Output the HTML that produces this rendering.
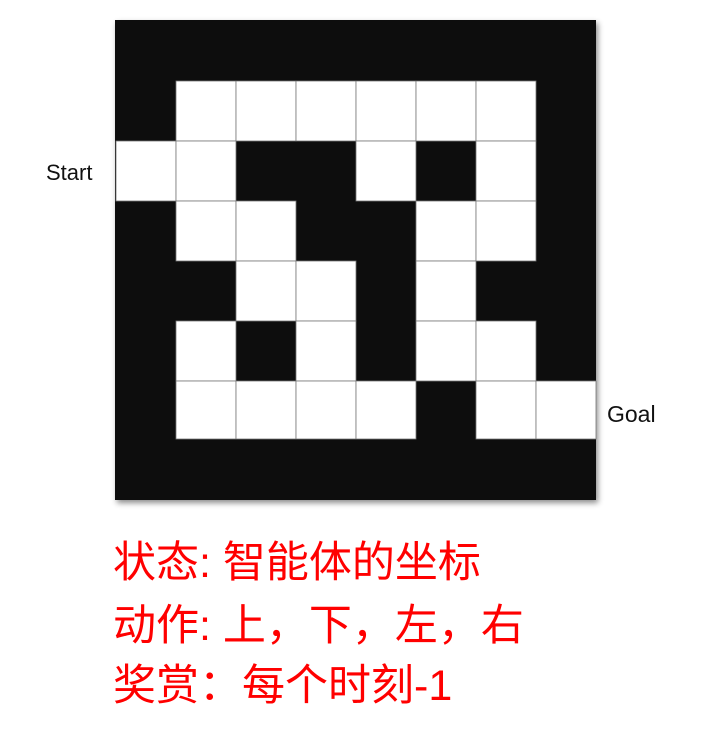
<!DOCTYPE html>
<html><head><meta charset="utf-8"><style>
body{margin:0;background:#fff;width:722px;height:732px;overflow:hidden;font-family:"Liberation Sans","Noto Sans CJK SC",sans-serif}
.t{position:absolute;left:113px;color:#f00;font-size:43px;font-family:"Liberation Sans","Noto Sans CJK SC",sans-serif;white-space:nowrap;line-height:1}
</style></head><body>
<svg id="s" width="722" height="520" style="position:absolute;left:0;top:0">
<defs><filter id="sh" x="-5%" y="-5%" width="115%" height="115%"><feDropShadow dx="2" dy="3" stdDeviation="3" flood-color="#000" flood-opacity="0.45"/></filter></defs>
<rect x="115" y="20" width="481" height="480" fill="#08090b" filter="url(#sh)"/>
<g id="cells"></g>
<text x="46" y="180" font-size="22" font-family="Liberation Sans, sans-serif" fill="#111">Start</text>
<text x="607" y="422" font-size="23" font-family="Liberation Sans, sans-serif" fill="#111">Goal</text>
</svg>
<div class="t" style="top:542px">状态: 智能体的坐标</div>
<div class="t" style="top:605px">动作: 上，下，左，右</div>
<div class="t" style="top:665px">奖赏：每个时刻-1</div>
<script>
const maze=[
"########",
"#......#",
"..##.#.#",
"#..##..#",
"##..#.##",
"#.#.#..#",
"#....#..",
"########"];
const colX=[116,176,236,296,356,416,476,536,596];
const rowY=[20,81,141,201,261,321,381,439,500];
const g=document.getElementById('cells');
maze.forEach((row,r)=>{[...row].forEach((c,k)=>{
 if(c!=='.')return;
 const e=document.createElementNS('http://www.w3.org/2000/svg','rect');
 e.setAttribute('x',colX[k]);e.setAttribute('y',rowY[r]);
 e.setAttribute('width',colX[k+1]-colX[k]);e.setAttribute('height',rowY[r+1]-rowY[r]);
 e.setAttribute('fill','#fff');e.setAttribute('stroke','#777');e.setAttribute('stroke-width','0.8');
 
 
 g.appendChild(e);
});});
</script>
</body></html>
